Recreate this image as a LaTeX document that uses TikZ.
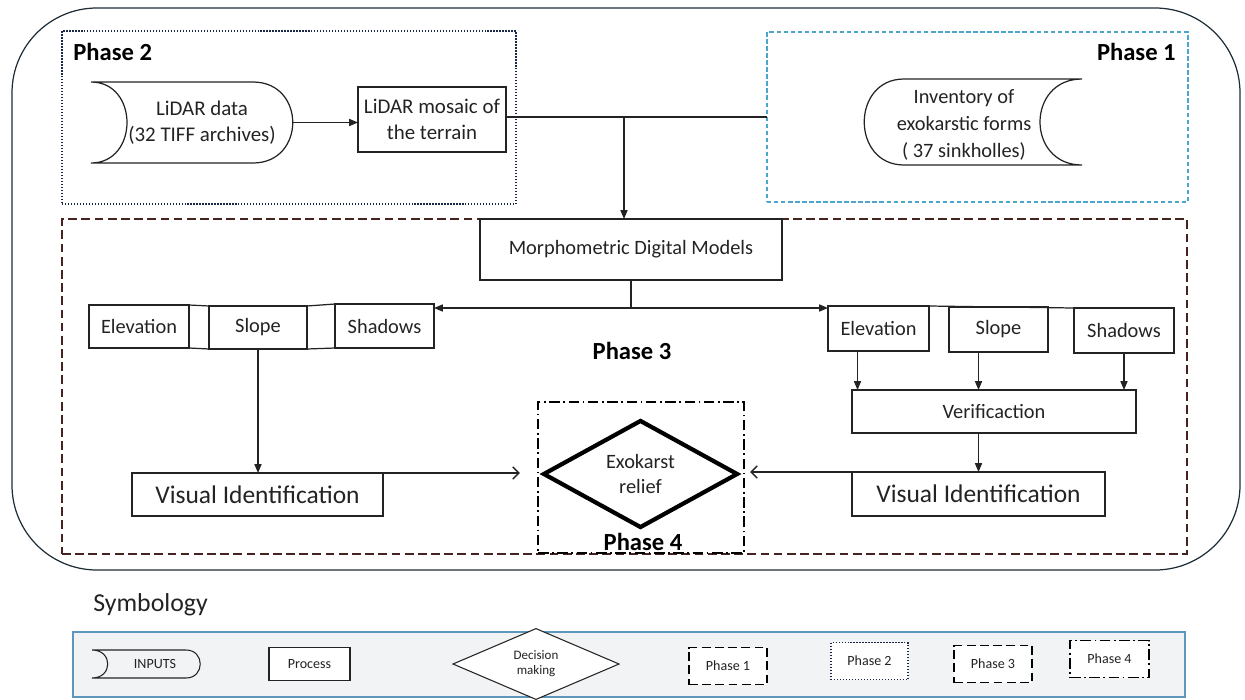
\documentclass[tikz,border=0pt]{standalone}
\usepackage{fontspec}
\setmainfont{Carlito}
\usetikzlibrary{arrows.meta,shapes.geometric}
\definecolor{P1}{RGB}{75,165,205}
\definecolor{P2}{RGB}{25,40,70}
\definecolor{P3}{RGB}{70,35,30}
\definecolor{Rim}{RGB}{30,45,55}
\definecolor{Ink}{RGB}{35,35,35}
\definecolor{Leg}{RGB}{242,243,245}
\definecolor{LegRim}{RGB}{95,150,190}

\begin{document}
\begin{tikzpicture}[x=0.02cm, y=-0.02cm,
    proc/.style={draw=Ink, line width=0.7pt, inner sep=0pt, outer sep=0pt, align=center, text=Ink,
                 font=\fontsize{11.6}{14.5}\selectfont},
    bigproc/.style={proc, font=\fontsize{14.5}{17}\selectfont},
    intext/.style={inner sep=0pt, outer sep=0pt, align=center, text=Ink, font=\fontsize{11.9}{14.5}\selectfont},
    phlabel/.style={inner sep=0pt, text=black, font=\fontsize{14}{16}\selectfont\bfseries},
    frame1/.style={draw=P1, line width=0.7pt, dash pattern=on 2.5pt off 1.5pt, inner sep=0pt, outer sep=0pt},
    frame2/.style={draw=P2, line width=0.7pt, densely dotted, inner sep=0pt, outer sep=0pt},
    frame3/.style={draw=P3, line width=0.8pt, dash pattern=on 5pt off 2.5pt, inner sep=0pt, outer sep=0pt},
    frame4/.style={draw=black, line width=0.7pt, dash pattern=on 6pt off 2pt on 1pt off 2pt, inner sep=0pt, outer sep=0pt},
    arr/.style={draw=Ink, line width=0.7pt, -{Triangle[length=5pt,width=4pt]}},
    barb/.style={draw=Ink, line width=0.8pt, -{Straight Barb[length=3.5pt,width=7pt]}},
    legtext/.style={font=\fontsize{8}{9}\selectfont, text=Ink, align=center, inner sep=0pt, outer sep=0pt}]
  \useasboundingbox (0,0) rectangle (1245,700);

  % outer frame
  \draw[Rim, line width=0.7pt, rounded corners=1.7cm] (12,8) rectangle (1240,570);

  % phase frames
  \node[frame2, minimum width=9.08cm, minimum height=3.46cm] (ph2) at (289,117.5) {};
  \node[frame1, minimum width=8.42cm, minimum height=3.4cm] (ph1) at (977.5,117) {};
  \node[frame3, minimum width=22.5cm, minimum height=6.7cm] (ph3) at (624.5,386.5) {};
  \node[frame4, minimum width=4.12cm, minimum height=3.02cm] (ph4) at (641,477.5) {};
  \node[phlabel, anchor=west] at (73,52) {Phase 2};
  \node[phlabel, anchor=east] at (1176,52) {Phase 1};
  \node[phlabel] at (632,351) {Phase 3};
  \node[phlabel] at (643,542) {Phase 4};

  % phase 2
  \draw[Ink, line width=0.7pt] (91,82) -- (253,82) .. controls (306,82) and (306,163) .. (253,163)
     -- (91,163) .. controls (139,163) and (139,82) .. (91,82);
  \node[intext, minimum width=3.64cm, minimum height=1.62cm] (lidar) at (202,122.5) {LiDAR data\\(32 TIFF archives)};
  \node[proc, font=\fontsize{11.9}{14.5}\selectfont, minimum width=2.96cm, minimum height=1.3cm] (mosaic) at (432,119.5) {LiDAR mosaic of\\the terrain};
  \draw[arr] (lidar.east) -- (lidar.east -| mosaic.west);

  % phase 1
  \draw[Ink, line width=0.7pt] (904,79) -- (1082,79) .. controls (1026,79) and (1026,165) .. (1082,165)
     -- (904,165) .. controls (851,165) and (851,79) .. (904,79);
  \node[intext, font=\fontsize{11.6}{15.5}\selectfont] (inv) at (964,125) {Inventory of\\exokarstic forms\\( 37 sinkholles)};

  % phase 3
  \node[proc, minimum width=6.04cm, minimum height=1.22cm] (morph) at (631,249.5) {Morphometric Digital Models};
  \coordinate (junc) at (624,117);
  \draw[Ink, line width=0.7pt] (mosaic.east |- junc) -- (junc -| ph1.west);
  \draw[arr] (junc) -- (junc |- morph.north);

  \node[proc, minimum width=2.0cm, minimum height=0.86cm] (lelev) at (139,326.5) {Elevation};
  \node[proc, minimum width=1.96cm, minimum height=0.86cm] (lslope) at (258,327.5) {Slope};
  \node[proc, minimum width=1.98cm, minimum height=0.88cm] (lshad) at (384.5,326) {Shadows};
  \draw[Ink, line width=0.7pt] (lelev.north east) -- (lslope.north west) (lslope.north east) -- (lshad.north west);
  \draw[Ink, line width=0.7pt] (lelev.south east) -- (lslope.south west) (lslope.south east) -- (lshad.south west);

  \node[proc, minimum width=2.02cm, minimum height=0.9cm] (relev) at (878.5,328.5) {Elevation};
  \node[proc, minimum width=1.98cm, minimum height=0.9cm] (rslope) at (998.5,329.5) {Slope};
  \node[proc, minimum width=2.0cm, minimum height=0.9cm] (rshad) at (1124,330.5) {Shadows};
  \draw[Ink, line width=0.7pt] (relev.north east) -- (rshad.north west);

  \coordinate (split) at (631,308);
  \draw[Ink, line width=0.7pt] (morph.south -| split) -- (split);
  \draw[arr] (split) -- (split -| lshad.east);
  \draw[arr] (split) -- (split -| relev.west);

  \node[proc, minimum width=5.68cm, minimum height=0.86cm] (verif) at (994,411.5) {Verificaction};
  \draw[arr] ([xshift=-0.42cm]relev.south) -- ([xshift=-0.42cm]relev.south |- verif.north);
  \draw[arr] ([xshift=-0.4cm]rslope.south) -- ([xshift=-0.4cm]rslope.south |- verif.north);
  \draw[arr] (rshad.south) -- (rshad.south |- verif.north);

  \node[bigproc, minimum width=5.02cm, minimum height=0.86cm] (lvis) at (257.5,494.5) {Visual Identification};
  \node[bigproc, minimum width=5.06cm, minimum height=0.88cm] (rvis) at (978.5,494) {Visual Identification};
  \draw[arr] (lslope.south) -- (lslope.south |- lvis.north);
  \draw[arr] (verif.south -| rvis.north) -- (rvis.north);

  % phase 4
  \node[diamond, draw=black, line width=2.4pt, minimum width=3.9cm, minimum height=1.68cm, inner sep=0pt,
        align=center, text=Ink, font=\fontsize{11.6}{14}\selectfont] (exo) at (640.5,474) {Exokarst\\relief};
  \draw[barb, shorten >=0.42cm] (lvis.north east) -- (lvis.north east -| exo.west);
  \draw[barb, shorten >=0.2cm] (rvis.north west) -- (rvis.north west -| exo.east);

  % symbology
  \node[anchor=west, inner sep=0pt, text=Ink, font=\fontsize{14.7}{17}\selectfont] (symb) at (93,605) {Symbology};
  \draw[draw=LegRim, fill=Leg, line width=0.8pt] (73,632) rectangle (1185,697);
  \draw[Ink, line width=0.6pt] (92,650) -- (186,650) .. controls (205,650) and (205,678) .. (186,678)
     -- (92,678) .. controls (113,678) and (113,650) .. (92,650);
  \node[legtext] (kin) at (155,664) {INPUTS};
  \node[legtext, draw=Ink, fill=white, line width=0.7pt, minimum width=1.62cm, minimum height=0.66cm] (kproc) at (309.5,664) {Process};
  \node[legtext, diamond, draw=Ink, fill=white, line width=0.6pt, minimum width=3.32cm, minimum height=1.04cm,
        font=\fontsize{7.4}{8.5}\selectfont] (kdec) at (536,664) {Decision\\making};
  \node[legtext, frame3, draw=black, fill=white, minimum width=1.56cm, minimum height=0.74cm] (k1) at (728,666) {Phase 1};
  \node[legtext, frame2, fill=white, minimum width=1.54cm, minimum height=0.74cm] (k2) at (869.5,661) {Phase 2};
  \node[legtext, frame3, draw=black, fill=white, minimum width=1.56cm, minimum height=0.74cm] (k3) at (993,664) {Phase 3};
  \node[legtext, frame4, fill=white, minimum width=1.58cm, minimum height=0.74cm] (k4) at (1109.5,659) {Phase 4};
\end{tikzpicture}
\end{document}
